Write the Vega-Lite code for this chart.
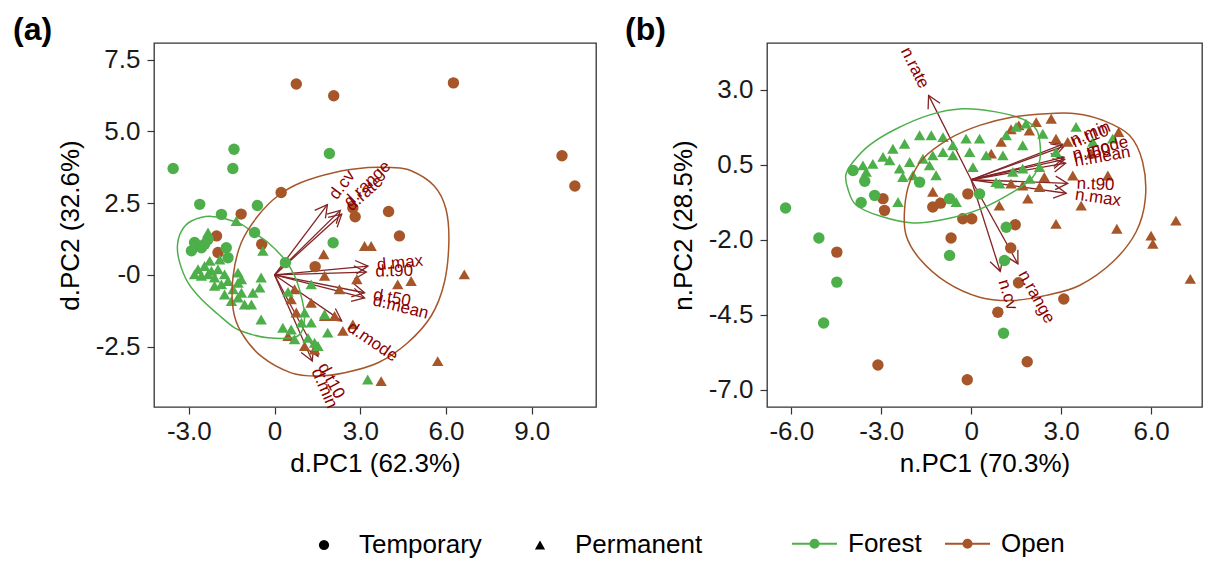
{
"$schema": "https://vega.github.io/schema/vega-lite/v6.json",
"background": "white",
"padding": {"left": 12, "top": 13, "right": 5, "bottom": 5},
"spacing": 27,
"config": {
  "font": "Liberation Sans",
  "view": {"stroke": "#333333", "strokeWidth": 1.3},
  "axis": {"grid": false, "domain": false, "tickColor": "#333333", "tickSize": 7, "tickWidth": 1.2, "labelFontSize": 26, "titleFontSize": 26, "titleFontWeight": "normal", "labelColor": "#1a1a1a", "titleColor": "#000000", "labelFont": "Liberation Sans", "titleFont": "Liberation Sans", "labelFlush": false, "labelOverlap": false},
  "axisX": {"labelPadding": 4, "titlePadding": 6},
  "axisY": {"labelPadding": 7, "titlePadding": 12},
  "title": {"fontSize": 32, "fontWeight": "bold", "anchor": "start", "frame": "group", "offset": -4, "color": "#000000", "font": "Liberation Sans"},
  "legend": {"labelFontSize": 26, "labelFont": "Liberation Sans", "labelColor": "#000000", "padding": 0}
},
"datasets": {
  "ptsA": [
    {"x":0.76,"y":6.65,"h":"Open","t":"Temporary"},{"x":2.07,"y":6.24,"h":"Open","t":"Temporary"},{"x":6.26,"y":6.69,"h":"Open","t":"Temporary"},{"x":10.06,"y":4.15,"h":"Open","t":"Temporary"},{"x":10.51,"y":3.10,"h":"Open","t":"Temporary"},{"x":0.23,"y":2.87,"h":"Open","t":"Temporary"},{"x":-1.17,"y":2.12,"h":"Open","t":"Temporary"},{"x":2.74,"y":2.33,"h":"Open","t":"Temporary"},{"x":2.82,"y":2.03,"h":"Open","t":"Temporary"},{"x":3.99,"y":2.21,"h":"Open","t":"Temporary"},{"x":4.37,"y":1.36,"h":"Open","t":"Temporary"},{"x":-2.03,"y":1.36,"h":"Open","t":"Temporary"},{"x":-1.98,"y":0.78,"h":"Open","t":"Temporary"},{"x":-0.45,"y":1.07,"h":"Open","t":"Temporary"},{"x":1.42,"y":0.29,"h":"Open","t":"Temporary"},
    {"x":3.15,"y":1.01,"h":"Open","t":"Permanent"},{"x":3.38,"y":1.01,"h":"Open","t":"Permanent"},{"x":1.72,"y":0.72,"h":"Open","t":"Permanent"},{"x":1.75,"y":-0.03,"h":"Open","t":"Permanent"},{"x":2.27,"y":-0.50,"h":"Open","t":"Permanent"},{"x":2.88,"y":-0.15,"h":"Open","t":"Permanent"},{"x":4.31,"y":-0.33,"h":"Open","t":"Permanent"},{"x":4.78,"y":-0.21,"h":"Open","t":"Permanent"},{"x":6.64,"y":0.02,"h":"Open","t":"Permanent"},{"x":5.71,"y":-3.00,"h":"Open","t":"Permanent"},{"x":3.73,"y":-3.70,"h":"Open","t":"Permanent"},{"x":2.74,"y":-1.72,"h":"Open","t":"Permanent"},{"x":2.39,"y":-1.95,"h":"Open","t":"Permanent"},{"x":2.10,"y":-1.43,"h":"Open","t":"Permanent"},{"x":1.75,"y":-1.43,"h":"Open","t":"Permanent"},{"x":1.28,"y":-0.97,"h":"Open","t":"Permanent"},{"x":0.58,"y":-0.85,"h":"Open","t":"Permanent"},{"x":0.76,"y":-1.31,"h":"Open","t":"Permanent"},{"x":1.05,"y":-2.48,"h":"Open","t":"Permanent"},{"x":1.40,"y":-2.60,"h":"Open","t":"Permanent"},{"x":0.47,"y":-2.13,"h":"Open","t":"Permanent"},{"x":0.70,"y":-0.50,"h":"Open","t":"Permanent"},
    {"x":-3.55,"y":3.71,"h":"Forest","t":"Temporary"},{"x":-1.42,"y":4.38,"h":"Forest","t":"Temporary"},{"x":-1.46,"y":3.71,"h":"Forest","t":"Temporary"},{"x":1.92,"y":4.23,"h":"Forest","t":"Temporary"},{"x":-2.62,"y":2.46,"h":"Forest","t":"Temporary"},{"x":-1.86,"y":2.11,"h":"Forest","t":"Temporary"},{"x":-0.60,"y":2.42,"h":"Forest","t":"Temporary"},{"x":-0.70,"y":1.48,"h":"Forest","t":"Temporary"},{"x":0.38,"y":0.43,"h":"Forest","t":"Temporary"},{"x":2.05,"y":1.12,"h":"Forest","t":"Temporary"},{"x":-2.80,"y":1.13,"h":"Forest","t":"Temporary"},{"x":-2.91,"y":0.84,"h":"Forest","t":"Temporary"},{"x":-2.56,"y":0.95,"h":"Forest","t":"Temporary"},{"x":-2.33,"y":1.24,"h":"Forest","t":"Temporary"},{"x":-1.69,"y":0.95,"h":"Forest","t":"Temporary"},{"x":-1.63,"y":0.60,"h":"Forest","t":"Temporary"},{"x":-2.45,"y":1.07,"h":"Forest","t":"Temporary"},
    {"x":-1.34,"y":1.88,"h":"Forest","t":"Permanent"},{"x":-2.33,"y":1.48,"h":"Forest","t":"Permanent"},{"x":-2.68,"y":0.20,"h":"Forest","t":"Permanent"},{"x":-2.45,"y":0.31,"h":"Forest","t":"Permanent"},{"x":-2.21,"y":0.14,"h":"Forest","t":"Permanent"},{"x":-1.98,"y":0.20,"h":"Forest","t":"Permanent"},{"x":-2.80,"y":0.02,"h":"Forest","t":"Permanent"},{"x":-2.10,"y":-0.09,"h":"Forest","t":"Permanent"},{"x":-1.75,"y":0.02,"h":"Forest","t":"Permanent"},{"x":-1.86,"y":-0.33,"h":"Forest","t":"Permanent"},{"x":-1.63,"y":-0.21,"h":"Forest","t":"Permanent"},{"x":-1.28,"y":0.08,"h":"Forest","t":"Permanent"},{"x":-1.16,"y":-0.15,"h":"Forest","t":"Permanent"},{"x":-1.45,"y":-0.50,"h":"Forest","t":"Permanent"},{"x":-1.75,"y":-0.68,"h":"Forest","t":"Permanent"},{"x":-1.28,"y":-0.79,"h":"Forest","t":"Permanent"},{"x":-1.51,"y":-0.91,"h":"Forest","t":"Permanent"},{"x":-1.05,"y":-1.03,"h":"Forest","t":"Permanent"},{"x":-0.81,"y":-1.03,"h":"Forest","t":"Permanent"},{"x":-0.47,"y":-0.09,"h":"Forest","t":"Permanent"},{"x":-0.52,"y":-0.44,"h":"Forest","t":"Permanent"},{"x":-0.76,"y":-0.62,"h":"Forest","t":"Permanent"},{"x":-0.47,"y":-1.55,"h":"Forest","t":"Permanent"},{"x":-0.41,"y":0.84,"h":"Forest","t":"Permanent"},{"x":-1.28,"y":-0.27,"h":"Forest","t":"Permanent"},{"x":-2.33,"y":0.02,"h":"Forest","t":"Permanent"},{"x":-2.56,"y":-0.03,"h":"Forest","t":"Permanent"},{"x":-2.10,"y":-0.38,"h":"Forest","t":"Permanent"},{"x":-1.16,"y":-0.62,"h":"Forest","t":"Permanent"},{"x":-2.27,"y":0.49,"h":"Forest","t":"Permanent"},{"x":-1.92,"y":0.54,"h":"Forest","t":"Permanent"},
    {"x":1.28,"y":-0.33,"h":"Forest","t":"Permanent"},{"x":0.47,"y":-0.59,"h":"Forest","t":"Permanent"},{"x":1.05,"y":-1.31,"h":"Forest","t":"Permanent"},{"x":0.94,"y":-1.66,"h":"Forest","t":"Permanent"},{"x":1.28,"y":-1.66,"h":"Forest","t":"Permanent"},{"x":1.75,"y":-1.37,"h":"Forest","t":"Permanent"},{"x":1.86,"y":-2.01,"h":"Forest","t":"Permanent"},{"x":0.58,"y":-1.90,"h":"Forest","t":"Permanent"},{"x":0.29,"y":-1.84,"h":"Forest","t":"Permanent"},{"x":0.70,"y":-2.24,"h":"Forest","t":"Permanent"},{"x":1.17,"y":-2.19,"h":"Forest","t":"Permanent"},{"x":1.40,"y":-2.36,"h":"Forest","t":"Permanent"},{"x":1.52,"y":-2.48,"h":"Forest","t":"Permanent"},{"x":3.26,"y":-3.64,"h":"Forest","t":"Permanent"}
  ],
  "ptsB": [
    {"x":-4.48,"y":-2.41,"h":"Open","t":"Temporary"},{"x":-3.11,"y":-6.17,"h":"Open","t":"Temporary"},{"x":-0.13,"y":-6.66,"h":"Open","t":"Temporary"},{"x":1.87,"y":-6.06,"h":"Open","t":"Temporary"},{"x":0.89,"y":-4.41,"h":"Open","t":"Temporary"},{"x":1.58,"y":-3.43,"h":"Open","t":"Temporary"},{"x":3.09,"y":-3.97,"h":"Open","t":"Temporary"},{"x":1.32,"y":-2.27,"h":"Open","t":"Temporary"},{"x":1.47,"y":-1.50,"h":"Open","t":"Temporary"},{"x":-0.67,"y":-1.94,"h":"Open","t":"Temporary"},{"x":-0.28,"y":-1.30,"h":"Open","t":"Temporary"},{"x":0.02,"y":-1.30,"h":"Open","t":"Temporary"},{"x":-2.94,"y":-0.63,"h":"Open","t":"Temporary"},{"x":-2.89,"y":-1.02,"h":"Open","t":"Temporary"},{"x":-1.28,"y":-0.91,"h":"Open","t":"Temporary"},{"x":-1.02,"y":-0.78,"h":"Open","t":"Temporary"},{"x":-0.11,"y":-0.47,"h":"Open","t":"Temporary"},
    {"x":1.33,"y":1.68,"h":"Open","t":"Permanent"},{"x":1.59,"y":1.81,"h":"Open","t":"Permanent"},{"x":2.17,"y":1.92,"h":"Open","t":"Permanent"},{"x":1.94,"y":1.64,"h":"Open","t":"Permanent"},{"x":2.67,"y":2.03,"h":"Open","t":"Permanent"},{"x":1.00,"y":1.26,"h":"Open","t":"Permanent"},{"x":0.67,"y":0.87,"h":"Open","t":"Permanent"},{"x":2.83,"y":1.37,"h":"Open","t":"Permanent"},{"x":3.22,"y":1.26,"h":"Open","t":"Permanent"},{"x":4.92,"y":1.59,"h":"Open","t":"Permanent"},{"x":2.44,"y":0.09,"h":"Open","t":"Permanent"},{"x":3.39,"y":0.14,"h":"Open","t":"Permanent"},{"x":4.56,"y":0.14,"h":"Open","t":"Permanent"},{"x":1.33,"y":-0.13,"h":"Open","t":"Permanent"},{"x":1.89,"y":-0.63,"h":"Open","t":"Permanent"},{"x":0.94,"y":-0.86,"h":"Open","t":"Permanent"},{"x":3.67,"y":-0.86,"h":"Open","t":"Permanent"},{"x":2.83,"y":-1.47,"h":"Open","t":"Permanent"},{"x":4.86,"y":-1.63,"h":"Open","t":"Permanent"},{"x":6.83,"y":-1.36,"h":"Open","t":"Permanent"},{"x":6.00,"y":-1.86,"h":"Open","t":"Permanent"},{"x":6.06,"y":-2.13,"h":"Open","t":"Permanent"},{"x":7.31,"y":-3.30,"h":"Open","t":"Permanent"},{"x":4.00,"y":0.87,"h":"Open","t":"Permanent"},{"x":-1.28,"y":-0.40,"h":"Open","t":"Permanent"},{"x":-1.06,"y":-0.74,"h":"Open","t":"Permanent"},{"x":1.72,"y":-0.19,"h":"Open","t":"Permanent"},{"x":2.28,"y":-0.24,"h":"Open","t":"Permanent"},
    {"x":-6.19,"y":-0.94,"h":"Forest","t":"Temporary"},{"x":-5.08,"y":-1.94,"h":"Forest","t":"Temporary"},{"x":-4.48,"y":-3.41,"h":"Forest","t":"Temporary"},{"x":-4.92,"y":-4.77,"h":"Forest","t":"Temporary"},{"x":-0.72,"y":-2.52,"h":"Forest","t":"Temporary"},{"x":1.11,"y":-2.69,"h":"Forest","t":"Temporary"},{"x":1.17,"y":-1.58,"h":"Forest","t":"Temporary"},{"x":1.08,"y":-5.11,"h":"Forest","t":"Temporary"},{"x":0.28,"y":-0.47,"h":"Forest","t":"Temporary"},{"x":-3.94,"y":0.31,"h":"Forest","t":"Temporary"},{"x":-3.55,"y":-0.05,"h":"Forest","t":"Temporary"},{"x":-3.22,"y":-0.52,"h":"Forest","t":"Temporary"},{"x":-3.67,"y":-0.76,"h":"Forest","t":"Temporary"},{"x":-1.72,"y":-0.08,"h":"Forest","t":"Temporary"},{"x":-0.72,"y":-0.63,"h":"Forest","t":"Temporary"},
    {"x":-2.61,"y":1.03,"h":"Forest","t":"Permanent"},{"x":-2.22,"y":1.20,"h":"Forest","t":"Permanent"},{"x":-1.72,"y":1.48,"h":"Forest","t":"Permanent"},{"x":-1.33,"y":1.48,"h":"Forest","t":"Permanent"},{"x":-0.94,"y":1.42,"h":"Forest","t":"Permanent"},{"x":-2.94,"y":0.76,"h":"Forest","t":"Permanent"},{"x":-3.28,"y":0.53,"h":"Forest","t":"Permanent"},{"x":-3.61,"y":0.48,"h":"Forest","t":"Permanent"},{"x":-2.72,"y":0.65,"h":"Forest","t":"Permanent"},{"x":-2.39,"y":0.37,"h":"Forest","t":"Permanent"},{"x":-2.05,"y":0.59,"h":"Forest","t":"Permanent"},{"x":-2.28,"y":0.09,"h":"Forest","t":"Permanent"},{"x":-1.61,"y":0.70,"h":"Forest","t":"Permanent"},{"x":-1.28,"y":0.81,"h":"Forest","t":"Permanent"},{"x":-0.94,"y":0.92,"h":"Forest","t":"Permanent"},{"x":-0.61,"y":0.81,"h":"Forest","t":"Permanent"},{"x":-0.17,"y":1.37,"h":"Forest","t":"Permanent"},{"x":-0.05,"y":0.92,"h":"Forest","t":"Permanent"},{"x":0.06,"y":0.42,"h":"Forest","t":"Permanent"},{"x":-0.61,"y":1.15,"h":"Forest","t":"Permanent"},{"x":-2.44,"y":-0.74,"h":"Forest","t":"Permanent"},{"x":-3.50,"y":0.26,"h":"Forest","t":"Permanent"},{"x":-1.94,"y":0.15,"h":"Forest","t":"Permanent"},{"x":-1.39,"y":0.48,"h":"Forest","t":"Permanent"},{"x":-1.17,"y":0.15,"h":"Forest","t":"Permanent"},{"x":-0.50,"y":-0.74,"h":"Forest","t":"Permanent"},
    {"x":0.28,"y":1.37,"h":"Forest","t":"Permanent"},{"x":1.17,"y":1.48,"h":"Forest","t":"Permanent"},{"x":1.72,"y":1.15,"h":"Forest","t":"Permanent"},{"x":2.39,"y":1.53,"h":"Forest","t":"Permanent"},{"x":3.50,"y":1.76,"h":"Forest","t":"Permanent"},{"x":4.06,"y":1.26,"h":"Forest","t":"Permanent"},{"x":2.83,"y":0.92,"h":"Forest","t":"Permanent"},{"x":1.06,"y":0.81,"h":"Forest","t":"Permanent"},{"x":1.39,"y":0.26,"h":"Forest","t":"Permanent"},{"x":1.72,"y":0.37,"h":"Forest","t":"Permanent"},{"x":2.28,"y":0.42,"h":"Forest","t":"Permanent"},{"x":1.95,"y":0.03,"h":"Forest","t":"Permanent"},{"x":0.83,"y":-0.08,"h":"Forest","t":"Permanent"},{"x":1.50,"y":1.76,"h":"Forest","t":"Permanent"},{"x":1.83,"y":1.87,"h":"Forest","t":"Permanent"},{"x":4.72,"y":1.37,"h":"Forest","t":"Permanent"},{"x":0.95,"y":-0.13,"h":"Forest","t":"Permanent"},{"x":0.50,"y":0.81,"h":"Forest","t":"Permanent"}
  ],
  "ellA": [
    {"x":-2.21,"y":2.04,"h":"Forest","i":1},{"x":-1.28,"y":1.82,"h":"Forest","i":2},{"x":-0.82,"y":1.53,"h":"Forest","i":3},{"x":-0.23,"y":1.13,"h":"Forest","i":4},{"x":0.35,"y":0.54,"h":"Forest","i":5},{"x":0.70,"y":-0.03,"h":"Forest","i":6},{"x":0.93,"y":-0.73,"h":"Forest","i":7},{"x":1.05,"y":-1.43,"h":"Forest","i":8},{"x":0.93,"y":-2.01,"h":"Forest","i":9},{"x":0.58,"y":-2.19,"h":"Forest","i":10},{"x":-0.23,"y":-2.19,"h":"Forest","i":11},{"x":-0.81,"y":-2.07,"h":"Forest","i":12},{"x":-1.40,"y":-1.84,"h":"Forest","i":13},{"x":-1.98,"y":-1.37,"h":"Forest","i":14},{"x":-2.56,"y":-0.85,"h":"Forest","i":15},{"x":-3.03,"y":-0.27,"h":"Forest","i":16},{"x":-3.32,"y":0.43,"h":"Forest","i":17},{"x":-3.40,"y":1.01,"h":"Forest","i":18},{"x":-3.26,"y":1.53,"h":"Forest","i":19},{"x":-2.91,"y":1.88,"h":"Forest","i":20},
    {"x":3.27,"y":3.74,"h":"Open","i":1},{"x":4.08,"y":3.74,"h":"Open","i":2},{"x":4.78,"y":3.63,"h":"Open","i":3},{"x":5.59,"y":3.10,"h":"Open","i":4},{"x":6.00,"y":2.29,"h":"Open","i":5},{"x":6.10,"y":1.13,"h":"Open","i":6},{"x":5.94,"y":-0.27,"h":"Open","i":7},{"x":5.48,"y":-1.43,"h":"Open","i":8},{"x":4.66,"y":-2.36,"h":"Open","i":9},{"x":3.62,"y":-3.06,"h":"Open","i":10},{"x":2.45,"y":-3.41,"h":"Open","i":11},{"x":1.52,"y":-3.52,"h":"Open","i":12},{"x":0.58,"y":-3.41,"h":"Open","i":13},{"x":-0.47,"y":-2.83,"h":"Open","i":14},{"x":-1.16,"y":-2.01,"h":"Open","i":15},{"x":-1.45,"y":-1.20,"h":"Open","i":16},{"x":-1.45,"y":-0.03,"h":"Open","i":17},{"x":-1.16,"y":1.14,"h":"Open","i":18},{"x":-0.58,"y":2.06,"h":"Open","i":19},{"x":0.12,"y":2.76,"h":"Open","i":20},{"x":0.93,"y":3.22,"h":"Open","i":21},{"x":2.10,"y":3.57,"h":"Open","i":22}
  ],
  "ellB": [
    {"x":-0.28,"y":2.36,"h":"Forest","i":1},{"x":0.82,"y":2.26,"h":"Forest","i":2},{"x":1.72,"y":2.02,"h":"Forest","i":3},{"x":2.16,"y":1.69,"h":"Forest","i":4},{"x":2.29,"y":1.26,"h":"Forest","i":5},{"x":2.29,"y":0.66,"h":"Forest","i":6},{"x":2.06,"y":0.09,"h":"Forest","i":7},{"x":1.39,"y":-0.41,"h":"Forest","i":8},{"x":0.29,"y":-0.98,"h":"Forest","i":9},{"x":-0.84,"y":-1.31,"h":"Forest","i":10},{"x":-1.94,"y":-1.44,"h":"Forest","i":11},{"x":-3.04,"y":-1.21,"h":"Forest","i":12},{"x":-3.84,"y":-0.84,"h":"Forest","i":13},{"x":-4.11,"y":-0.31,"h":"Forest","i":14},{"x":-4.18,"y":0.16,"h":"Forest","i":15},{"x":-3.94,"y":0.59,"h":"Forest","i":16},{"x":-3.38,"y":1.16,"h":"Forest","i":17},{"x":-2.51,"y":1.69,"h":"Forest","i":18},{"x":-1.38,"y":2.16,"h":"Forest","i":19},
    {"x":2.50,"y":2.20,"h":"Open","i":1},{"x":3.50,"y":2.20,"h":"Open","i":2},{"x":4.39,"y":1.98,"h":"Open","i":3},{"x":5.28,"y":1.48,"h":"Open","i":4},{"x":5.72,"y":0.59,"h":"Open","i":5},{"x":5.81,"y":-0.63,"h":"Open","i":6},{"x":5.50,"y":-1.74,"h":"Open","i":7},{"x":4.72,"y":-2.74,"h":"Open","i":8},{"x":3.61,"y":-3.52,"h":"Open","i":9},{"x":2.50,"y":-3.85,"h":"Open","i":10},{"x":1.39,"y":-4.02,"h":"Open","i":11},{"x":0.28,"y":-3.91,"h":"Open","i":12},{"x":-0.83,"y":-3.41,"h":"Open","i":13},{"x":-1.72,"y":-2.63,"h":"Open","i":14},{"x":-2.17,"y":-1.85,"h":"Open","i":15},{"x":-2.22,"y":-0.97,"h":"Open","i":16},{"x":-2.05,"y":-0.08,"h":"Open","i":17},{"x":-1.61,"y":0.70,"h":"Open","i":18},{"x":-0.72,"y":1.37,"h":"Open","i":19},{"x":0.28,"y":1.81,"h":"Open","i":20},{"x":1.39,"y":2.09,"h":"Open","i":21}
  ],
  "arrA": [
    {"v":"d.cv","x":1.85,"y":2.45},{"v":"d.range","x":2.30,"y":2.25},{"v":"d.rate","x":2.35,"y":2.12},{"v":"d.max","x":3.27,"y":0.31},{"v":"d.t90","x":3.21,"y":0.10},{"v":"d.t50","x":3.15,"y":-0.62},{"v":"d.mean","x":3.15,"y":-0.80},{"v":"d.mode","x":2.35,"y":-1.60},{"v":"d.t10","x":1.52,"y":-2.83},{"v":"d.min","x":1.32,"y":-3.00}
  ],
  "arrB": [
    {"v":"n.rate","x":-1.42,"y":2.81},{"v":"n.cv","x":0.97,"y":-3.05},{"v":"n.range","x":1.56,"y":-2.80},{"v":"n.min","x":3.05,"y":1.18},{"v":"n.t10","x":3.10,"y":1.12},{"v":"n.mode","x":3.10,"y":0.75},{"v":"n.t50","x":3.12,"y":0.68},{"v":"n.mean","x":3.15,"y":0.55},{"v":"n.t90","x":3.22,"y":-0.12},{"v":"n.max","x":3.17,"y":-0.45}
  ]
},
"hconcat": [
  {
    "title": {"text": "(a)", "dx": -141},
    "width": 442, "height": 364,
    "encoding": {
      "x": {"field": "x", "type": "quantitative", "scale": {"domain": [-4.22, 11.25], "nice": false, "zero": false}, "axis": {"title": "d.PC1 (62.3%)", "values": [-3, 0, 3, 6, 9], "labelExpr": "datum.value == 0 ? '0' : (datum.value < 0 ? '-' : '') + format(abs(datum.value), '.1f')"}},
      "y": {"field": "y", "type": "quantitative", "scale": {"domain": [-4.6, 8.08], "nice": false, "zero": false}, "axis": {"title": "d.PC2 (32.6%)", "values": [-2.5, 0, 2.5, 5, 7.5], "labelExpr": "datum.value == 0 ? '-0' : (datum.value < 0 ? '-' : '') + format(abs(datum.value), '.1f')"}}
    },
    "layer": [
      {"data": {"name": "arrA"}, "mark": {"type": "rule", "color": "#832424", "strokeWidth": 1.3}, "encoding": {"x2": {"datum": 0}, "y2": {"datum": 0}}},
      {"data": {"name": "arrA"}, "mark": {"type": "point", "shape": "M-1,-0.55L0,0L-1,0.55", "filled": false, "color": "#832424", "strokeWidth": 1.3, "size": 600, "opacity": 1, "angle": {"expr": "-atan2(datum.y, datum.x)*180/PI"}}, "encoding": {}},
      {"data": {"name": "ptsA"}, "mark": {"type": "point", "filled": true, "opacity": 1, "strokeWidth": 0, "size": 130},
        "encoding": {
          "color": {"field": "h", "type": "nominal", "scale": {"domain": ["Forest", "Open"], "range": ["#4DAF4A", "#A65628"]}, "legend": {"title": null, "orient": "none", "legendX": 637, "legendY": 477, "direction": "horizontal", "symbolType": "M-1,0L1,0M-0.18,0A0.18,0.18,0,1,1,0.18,0A0.18,0.18,0,1,1,-0.18,0Z", "symbolSize": 2025, "symbolStrokeWidth": 2, "labelOffset": 10, "columnPadding": 19, "encode": {"symbols": {"update": {"fill": {"scale": "color", "field": "value"}, "stroke": {"scale": "color", "field": "value"}, "strokeWidth": {"value": 2}, "opacity": {"value": 1}}}}}},
          "shape": {"field": "t", "type": "nominal", "scale": {"domain": ["Temporary", "Permanent"], "range": ["circle", "triangle-up"]}, "legend": {"title": null, "orient": "none", "legendX": 157, "legendY": 489, "direction": "horizontal", "symbolSize": 105, "labelOffset": 22, "columnPadding": 45, "encode": {"symbols": {"update": {"fill": {"value": "#000000"}, "stroke": {"value": "#000000"}, "strokeWidth": {"value": 0}, "opacity": {"value": 1}}}}}}
        }},
      {"data": {"name": "ellA"}, "mark": {"type": "line", "interpolate": "cardinal-closed", "strokeWidth": 1.5},
        "encoding": {"color": {"field": "h", "type": "nominal"}, "order": {"field": "i", "type": "quantitative"}}},
      {"data": {"name": "arrA"}, "mark": {"type": "text", "color": "#8B0000", "fontSize": 17, "font": "Liberation Sans", "baseline": "middle", "angle": {"expr": "-atan(datum.y/datum.x)*180/PI"}, "align": {"expr": "datum.x > 0 ? 'left' : 'right'"}, "dx": {"expr": "datum.x > 0 ? 9 : -9"}},
        "encoding": {"text": {"field": "v"}}}
    ]
  },
  {
    "title": {"text": "(b)", "dx": -142},
    "width": 435, "height": 364,
    "encoding": {
      "x": {"field": "x", "type": "quantitative", "scale": {"domain": [-6.81, 7.7], "nice": false, "zero": false}, "axis": {"title": "n.PC1 (70.3%)", "values": [-6, -3, 0, 3, 6], "labelExpr": "datum.value == 0 ? '0' : (datum.value < 0 ? '-' : '') + format(abs(datum.value), '.1f')"}},
      "y": {"field": "y", "type": "quantitative", "scale": {"domain": [-7.567, 4.553], "nice": false, "zero": false}, "axis": {"title": "n.PC2 (28.5%)", "values": [-7, -4.5, -2, 0.5, 3], "labelExpr": "(datum.value < 0 ? '-' : '') + format(abs(datum.value), '.1f')"}}
    },
    "layer": [
      {"data": {"name": "arrB"}, "mark": {"type": "rule", "color": "#832424", "strokeWidth": 1.3}, "encoding": {"x2": {"datum": 0}, "y2": {"datum": 0}}},
      {"data": {"name": "arrB"}, "mark": {"type": "point", "shape": "M-1,-0.55L0,0L-1,0.55", "filled": false, "color": "#832424", "strokeWidth": 1.3, "size": 600, "opacity": 1, "angle": {"expr": "-atan2(datum.y, datum.x)*180/PI"}}, "encoding": {}},
      {"data": {"name": "ptsB"}, "mark": {"type": "point", "filled": true, "opacity": 1, "strokeWidth": 0, "size": 130},
        "encoding": {
          "color": {"field": "h", "type": "nominal", "scale": {"domain": ["Forest", "Open"], "range": ["#4DAF4A", "#A65628"]}},
          "shape": {"field": "t", "type": "nominal", "scale": {"domain": ["Temporary", "Permanent"], "range": ["circle", "triangle-up"]}}
        }},
      {"data": {"name": "ellB"}, "mark": {"type": "line", "interpolate": "cardinal-closed", "strokeWidth": 1.5},
        "encoding": {"color": {"field": "h", "type": "nominal"}, "order": {"field": "i", "type": "quantitative"}}},
      {"data": {"name": "arrB"}, "mark": {"type": "text", "color": "#8B0000", "fontSize": 17, "font": "Liberation Sans", "baseline": "middle", "angle": {"expr": "-atan(datum.y/datum.x)*180/PI"}, "align": {"expr": "datum.x > 0 ? 'left' : 'right'"}, "dx": {"expr": "datum.x > 0 ? 9 : -9"}},
        "encoding": {"text": {"field": "v"}}}
    ]
  }
]
}
